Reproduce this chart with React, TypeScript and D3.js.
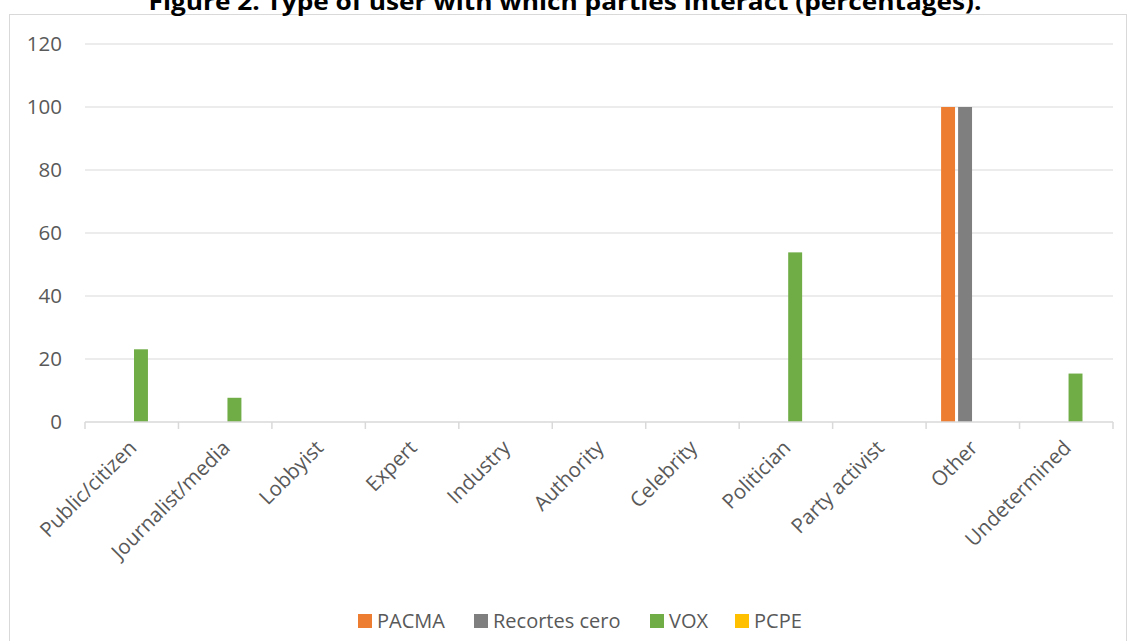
import React, { useEffect, useRef } from "react";
import * as d3 from "d3";

const categories = [
  "Public/citizen",
  "Journalist/media",
  "Lobbyist",
  "Expert",
  "Industry",
  "Authority",
  "Celebrity",
  "Politician",
  "Party activist",
  "Other",
  "Undetermined",
];
const seriesNames = ["PACMA", "Recortes cero", "VOX", "PCPE"];
const seriesColors = ["#ED7D31", "#7F7F7F", "#70AD47", "#FFC000"];
const pacma = [0, 0, 0, 0, 0, 0, 0, 0, 0, 100, 0];
const recortes = [0, 0, 0, 0, 0, 0, 0, 0, 0, 100, 0];
const vox = [23.08, 7.69, 0, 0, 0, 0, 0, 53.85, 0, 0, 15.38];
const pcpe = [0, 0, 0, 0, 0, 0, 0, 0, 0, 0, 0];
const yTicks = [0, 20, 40, 60, 80, 100, 120];
const title = "Figure 2. Type of user with which parties interact (percentages).";

const W = 1128;
const H = 641;
const FONT = "'Open Sans', 'Noto Sans', sans-serif";

export default function App() {
  const ref = useRef<SVGSVGElement>(null);
  useEffect(() => {
    const svg = d3.select(ref.current);
    svg.selectAll("*").remove();
    const series = [pacma, recortes, vox, pcpe];
    const left = 85, right = 1113, top = 44, bottom = 422;
    const x = d3.scaleBand<string>().domain(categories).range([left, right]).paddingInner(0).paddingOuter(0);
    const y = d3.scaleLinear().domain([0, 120]).range([bottom, top]);
    const inner = d3.scaleBand<string>().domain(seriesNames).range([15, x.bandwidth() - 13.5]).paddingInner(0.18);

    svg.append("rect").attr("x", 9.5).attr("y", 14.5).attr("width", W - 11).attr("height", H)
      .attr("fill", "#fff").attr("stroke", "#d9d9d9");

    svg.append("text").attr("x", 565).attr("y", 10).attr("text-anchor", "middle")
      .attr("font-family", "'Open Sans', sans-serif").attr("font-weight", "bold").attr("font-size", 24)
      .attr("textLength", 833).attr("lengthAdjust", "spacingAndGlyphs")
      .attr("fill", "#000").text(title);

    // gridlines
    svg.append("g").selectAll("line").data(yTicks.filter((t) => t > 0)).join("line")
      .attr("x1", left).attr("x2", right).attr("y1", (d) => y(d)).attr("y2", (d) => y(d))
      .attr("stroke", "#d9d9d9").attr("stroke-width", 1);

    svg.append("g").selectAll("text").data(yTicks).join("text")
      .attr("x", 62).attr("y", (d) => y(d)).attr("dy", "0.36em").attr("text-anchor", "end")
      .attr("font-family", FONT).attr("font-size", 20.5).attr("fill", "#595959").text((d) => d);

    // bars
    series.forEach((vals, si) => {
      svg.append("g").selectAll("rect").data(vals).join("rect")
        .attr("x", (_, i) => (x(categories[i]) as number) + (inner(seriesNames[si]) as number))
        .attr("width", inner.bandwidth())
        .attr("y", (d) => y(d))
        .attr("height", (d) => bottom - y(d))
        .attr("fill", seriesColors[si]);
    });

    // x axis
    svg.append("line").attr("x1", left).attr("x2", right).attr("y1", bottom).attr("y2", bottom)
      .attr("stroke", "#d9d9d9").attr("stroke-width", 1.5);
    const ticks = categories.map((c) => x(c) as number).concat([right]);
    svg.append("g").selectAll("line").data(ticks).join("line")
      .attr("x1", (d) => d).attr("x2", (d) => d).attr("y1", bottom).attr("y2", bottom + 7)
      .attr("stroke", "#d9d9d9").attr("stroke-width", 1.5);

    svg.append("g").selectAll("text").data(categories).join("text")
      .attr("transform", (d) => `translate(${(x(d) as number) + x.bandwidth() / 2 + 1},${bottom + 22}) rotate(-45)`)
      .attr("text-anchor", "end").attr("dy", "0.35em")
      .attr("font-family", FONT).attr("font-size", 20.5).attr("fill", "#595959").text((d) => d);

    // legend
    const legendX = [358, 474, 650, 735];
    const lg = svg.append("g");
    seriesNames.forEach((n, i) => {
      lg.append("rect").attr("x", legendX[i]).attr("y", 614).attr("width", 14).attr("height", 14).attr("fill", seriesColors[i]);
      lg.append("text").attr("x", legendX[i] + 19).attr("y", 621).attr("dy", "0.36em")
        .attr("font-family", FONT).attr("font-size", 20).attr("fill", "#595959").text(n);
    });
  }, []);
  return (
    <svg ref={ref} width={W} height={H} style={{ position: "absolute", left: 0, top: 0 }} />
  );
}
